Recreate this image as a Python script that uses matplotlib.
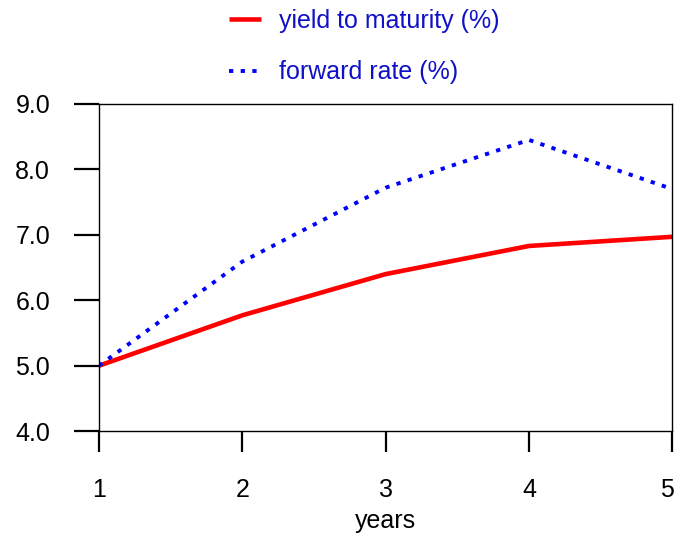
import matplotlib.pyplot as plt
from matplotlib.transforms import ScaledTranslation

plt.rcParams['font.family'] = ['Liberation Sans', 'DejaVu Sans']

# data
years = [1, 2, 3, 4, 5]
ytm = [5.0, 5.77, 6.40, 6.83, 6.97]
fwd = [5.0, 6.59, 7.72, 8.45, 7.70]
y_ticks = [4.0, 5.0, 6.0, 7.0, 8.0, 9.0]

fs = 18

fig = plt.figure(figsize=(6.77, 5.33), dpi=100)
ax = fig.add_axes([0.146, 0.191, 0.847, 0.614])

ax.plot(years, ytm, color='red', linewidth=3.3, solid_capstyle='butt',
        label='yield to maturity (%)')
ax.plot(years, fwd, color='blue', linewidth=2.8, linestyle=(0, (1.1, 1.9)),
        label='forward rate (%)')

ax.set_xlim(1, 5)
ax.set_ylim(4, 9)
ax.set_xticks(years)
ax.set_yticks(y_ticks)
ax.set_yticklabels([f'{v:.1f}' for v in y_ticks])
ax.tick_params(axis='y', direction='out', length=18, width=1.6, pad=17, labelsize=fs)
ax.tick_params(axis='x', direction='out', length=15, width=1.6, pad=19, labelsize=fs)
for s in ax.spines.values():
    s.set_linewidth(1.0)
ax.set_xlabel('years', fontsize=fs, labelpad=5)

# keep the last x label inside the figure edge
last = ax.get_xticklabels()[-1]
last.set_transform(last.get_transform() + ScaledTranslation(-4 / 72, 0, fig.dpi_scale_trans))

leg = fig.legend(loc='upper left', bbox_to_anchor=(0.335, 0.988), frameon=False,
                 fontsize=fs, labelcolor='#1010c8', handlelength=1.25,
                 handletextpad=0.75, labelspacing=1.1, borderaxespad=0.0,
                 borderpad=0.1)

fig.savefig('out.png', dpi=100)
